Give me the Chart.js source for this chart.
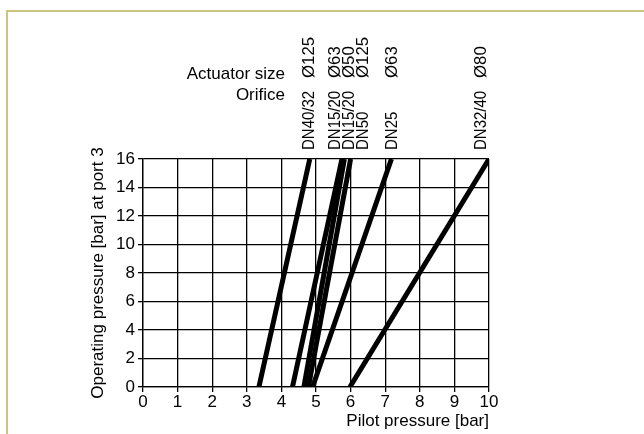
<!DOCTYPE html>
<html>
<head>
<meta charset="utf-8">
<script src="https://cdn.jsdelivr.net/npm/chart.js@4"></script>
<style>
  html, body { margin: 0; padding: 0; background: #fff; }
  #wrap { position: relative; width: 644px; height: 434px; overflow: hidden; }
  #frame { position: absolute; left: 6px; top: 10px; width: 700px; height: 500px;
           border-top: 2px solid #cbc583; border-left: 2px solid #cbc583; box-sizing: border-box; }
  canvas { position: absolute; left: 0; top: 0; }
</style>
</head>
<body>
<div id="wrap">
  <div id="frame"></div>
  <canvas id="c" width="644" height="434"></canvas>
</div>
<script>
// ---- data ----
const orificeLabels  = ['DN40/32', 'DN15/20', 'DN15/20', 'DN50', 'DN25', 'DN32/40'];
const actuatorLabels = ['Ø125', 'Ø63', 'Ø50', 'Ø125', 'Ø63', 'Ø80'];
const operatingPressure = [0, 16];                           // bar at port 3 (line end points)
const pilotAtZero    = [3.35, 4.32, 4.65, 4.78, 4.90, 5.98]; // pilot pressure at 0 bar
const pilotAtSixteen = [4.82, 5.75, 5.82, 6.00, 7.18, 10.0]; // pilot pressure at 16 bar
const xTickValues = [0, 1, 2, 3, 4, 5, 6, 7, 8, 9, 10];
const yTickValues = [0, 2, 4, 6, 8, 10, 12, 14, 16];

// ---- label placement (x in pilot-pressure units) ----
const labelColumnX = [4.82, 5.57, 5.97, 6.37, 7.22, 9.77];

const FONT = 'Liberation Sans, Arial, sans-serif';
const FS = 17;
const FS_COL = 15;

const datasets = orificeLabels.map((o, i) => ({
  label: o + ' ' + actuatorLabels[i],
  data: [
    { x: pilotAtZero[i], y: operatingPressure[0] },
    { x: pilotAtSixteen[i], y: operatingPressure[1] }
  ],
  showLine: true,
  borderColor: '#000',
  backgroundColor: '#000',
  borderWidth: 5,
  borderCapStyle: 'butt',
  pointRadius: 0,
  pointHoverRadius: 0
}));

function rotatedText(ctx, text, x, y, lenScale) {
  ctx.save();
  ctx.translate(x, y);
  ctx.rotate(-Math.PI / 2);
  ctx.scale(lenScale, 1.08);
  ctx.textAlign = 'left';
  ctx.textBaseline = 'middle';
  ctx.fillText(text, 0, 0);
  ctx.restore();
}

const headerPlugin = {
  id: 'header',
  afterDraw(chart) {
    const ctx = chart.ctx;
    const xs = chart.scales.x;
    ctx.save();
    ctx.fillStyle = '#000';
    ctx.font = FS + 'px ' + FONT;
    ctx.textAlign = 'right';
    ctx.textBaseline = 'middle';
    ctx.fillText('Actuator size', 285, 74);
    ctx.fillText('Orifice', 285, 95);
    ctx.font = FS_COL + 'px ' + FONT;
    orificeLabels.forEach((o, i) => {
      const px = xs.getPixelForValue(labelColumnX[i]);
      rotatedText(ctx, o, px, 150, 1);
      rotatedText(ctx, actuatorLabels[i], px, 78, 1.12);
    });
    ctx.restore();
  }
};

new Chart(document.getElementById('c'), {
  type: 'scatter',
  data: { datasets },
  plugins: [headerPlugin],
  options: {
    responsive: false,
    animation: false,
    devicePixelRatio: 1,
    layout: { padding: { top: 159, right: 155, left: 0, bottom: 0 } },
    plugins: { legend: { display: false }, tooltip: { enabled: false } },
    scales: {
      x: {
        type: 'linear', min: 0, max: 10,
        afterFit(s) { s.height = 434 - 387; },
        afterBuildTicks(s) { s.ticks = xTickValues.map(v => ({ value: v })); },
        ticks: { color: '#000', font: { family: FONT, size: FS }, padding: 0 },
        grid: { color: '#000', lineWidth: 1.3, tickLength: 5 },
        border: { color: '#000', width: 1.3 },
        title: { display: true, text: 'Pilot pressure [bar]', align: 'end', color: '#000',
                 font: { family: FONT, size: FS }, padding: { top: 0, bottom: 2 } }
      },
      y: {
        type: 'linear', min: 0, max: 16,
        afterFit(s) { s.width = 143; },
        afterBuildTicks(s) {
          const t = [];
          for (let v = 0; v <= 16; v++) t.push({ value: v });
          s.ticks = t;
        },
        ticks: {
          color: '#000', font: { family: FONT, size: FS }, padding: 3,
          callback: v => (yTickValues.includes(v) ? String(v) : '')
        },
        grid: { color: '#000', lineWidth: 1.3, tickLength: 5 },
        border: { color: '#000', width: 1.3 },
        title: { display: true, text: 'Operating pressure [bar] at port 3', color: '#000',
                 font: { family: FONT, size: FS }, padding: { top: 88, bottom: 0 } }
      }
    }
  }
});
</script>
</body>
</html>
